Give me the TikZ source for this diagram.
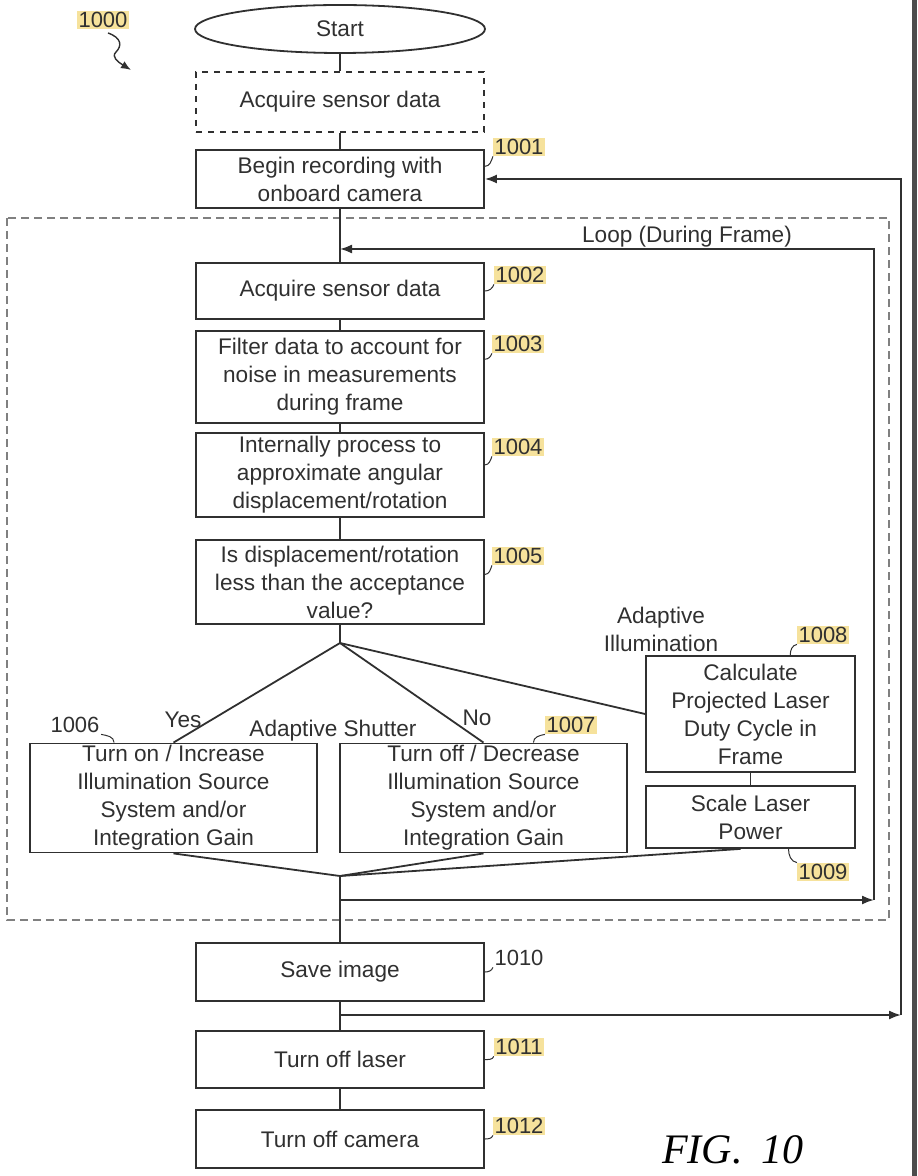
\documentclass[tikz,border=0pt]{standalone}
\usepackage{fontspec}
\setmainfont{Liberation Sans}
\newfontfamily\figfont{Liberation Serif}
\usepackage{xcolor}
\usetikzlibrary{shapes.geometric}
\usetikzlibrary{arrows.meta}

\definecolor{ink}{HTML}{303030}
\definecolor{numhl}{HTML}{F6E29C}

\tikzset{
	procbox/.style={draw=ink, line width=0.9pt, align=center, inner sep=1pt, text=ink,
		font=\fontsize{11.3}{14}\selectfont},
	flow/.style={draw=ink, line width=0.9pt},
	arr/.style={flow, -{Latex[length=6pt,width=4.5pt]}},
	lead/.style={draw=ink, line width=0.5pt},
	refnum/.style={text=ink, inner sep=0.6pt, font=\fontsize{11}{13}\selectfont},
	hlnum/.style={refnum, fill=numhl},
	tag/.style={text=ink, align=center, inner sep=0pt, font=\fontsize{11.3}{14}\selectfont},
}

\begin{document}
\begin{tikzpicture}[x=0.5pt, y=-0.5pt]
	\useasboundingbox (0,0) rectangle (917,1176);
	
	% frame loop
	\draw[gray, dashed, line width=0.8pt, dash pattern=on 4pt off 2.5pt] (7,218) rectangle (889,920);
	\node[tag] (looplbl) at (687,237) {Loop (During Frame)};
	
	% main column
	\node[procbox, ellipse, minimum width=145pt, minimum height=24pt] (start) at (340,29) {Start};
	\node[procbox, dashed, minimum width=144pt, minimum height=30pt] (b0) at (340,102) {Acquire sensor data};
	\node[procbox, minimum width=144pt, minimum height=29pt] (b1001) at (340,179) {Begin recording with\\onboard camera};
	\node[procbox, minimum width=144pt, minimum height=28pt] (b1002) at (340,291) {Acquire sensor data};
	\node[procbox, minimum width=144pt, minimum height=46pt] (b1003) at (340,377) {Filter data to account for\\noise in measurements\\during frame};
	\node[procbox, minimum width=144pt, minimum height=42pt] (b1004) at (340,475) {Internally process to\\approximate angular\\displacement/rotation};
	\node[procbox, minimum width=144pt, minimum height=42pt] (b1005) at (340,582) {Is displacement/rotation\\less than the acceptance\\value?};
	
	% branches
	\node[procbox, minimum width=143.5pt, minimum height=54pt] (b1006) at (173.5,798) {Turn on / Increase\\Illumination Source\\System and/or\\Integration Gain};
	\node[procbox, minimum width=143.5pt, minimum height=54pt] (b1007) at (483.5,798) {Turn off / Decrease\\Illumination Source\\System and/or\\Integration Gain};
	\node[procbox, minimum width=104.5pt, minimum height=58pt] (b1008) at (750.5,714) {Calculate\\Projected Laser\\Duty Cycle in\\Frame};
	\node[procbox, minimum width=104.5pt, minimum height=31pt] (b1009) at (750.5,817) {Scale Laser\\Power};
	
	% end column
	\node[procbox, minimum width=144pt, minimum height=29pt] (b1010) at (340,972) {Save image};
	\node[procbox, minimum width=144pt, minimum height=28.5pt] (b1011) at (340,1059.5) {Turn off laser};
	\node[procbox, minimum width=144pt, minimum height=29pt] (b1012) at (340,1139) {Turn off camera};
	
	% branch texts
	\node[tag] (yes) at (183,720) {Yes};
	\node[tag] (no) at (477,718) {No};
	\node[tag] (shut) at (333,731) {Adaptive Shutter};
	\node[tag] (illum) at (661,629) {Adaptive\\Illumination};
	
	% connectors
	\coordinate (apex) at (340,643);
	\coordinate (merge) at (340,876);
	\draw[flow] (start) -- (b0);
	\draw[flow] (b0) -- (b1001);
	\draw[flow] (b1001) -- (b1002);
	\draw[flow] (b1002) -- (b1003);
	\draw[flow] (b1003) -- (b1004);
	\draw[flow] (b1004) -- (b1005);
	\draw[flow] (b1005) -- (apex);
	\draw[flow] (apex) -- (b1006.north);
	\draw[flow] (apex) -- (b1007.north);
	\draw[flow] (apex) -- (b1008.west);
	\draw[flow] (b1008) -- (b1009);
	\draw[flow] (b1006.south) -- (merge);
	\draw[flow] (b1007.south) -- (merge);
	\draw[flow] ([xshift=-5pt]b1009.south) -- (merge);
	\draw[flow] (merge) -- (b1010);
	\draw[flow] (b1010) -- (b1011);
	\draw[flow] (b1011) -- (b1012);
	
	% inner loop
	\coordinate (inA) at (340,900);
	\coordinate (inC) at (874,900);
	\coordinate (inB) at (340,249);
	\draw[arr] (inA) -- (inC);
	\draw[arr] (inC) |- (inB);
	
	% outer loop
	\coordinate (outA) at (340,1015);
	\coordinate (outC) at (901,1015);
	\draw[arr] (outA) -- (outC);
	\draw[arr] (outC) |- (b1001.east);
	
	% reference numerals
	\node[hlnum] (l1000) at (103,20) {1000};
	\node[hlnum] (l1001) at (519,147) {1001};
	\node[hlnum] (l1002) at (520,275) {1002};
	\node[hlnum] (l1003) at (518,344) {1003};
	\node[hlnum] (l1004) at (518,447) {1004};
	\node[hlnum] (l1005) at (518,556) {1005};
	\node[refnum] (l1006) at (75,725) {1006};
	\node[hlnum] (l1007) at (571,725) {1007};
	\node[hlnum] (l1008) at (823,635) {1008};
	\node[hlnum] (l1009) at (823,872) {1009};
	\node[refnum] (l1010) at (519,958) {1010};
	\node[hlnum] (l1011) at (519,1047) {1011};
	\node[hlnum] (l1012) at (519,1126) {1012};
	
	\draw[lead] (b1001.5.5) to[out=0, in=-110] (l1001.south west);
	\draw[lead] (b1002.east) to[out=0, in=-110] (l1002.south west);
	\draw[lead] (b1003.7) to[out=0, in=-110] (l1003.south west);
	\draw[lead] (b1004.4) to[out=0, in=-110] (l1004.south west);
	\draw[lead] (b1005.3.6) to[out=0, in=-110] (l1005.south west);
	\draw[lead] (b1006.137) to[out=90, in=-10] (l1006.south east);
	\draw[lead] (b1007.48) to[out=90, in=-170] (l1007.south west);
	\draw[lead] (b1008.56) to[out=90, in=-170] (l1008.south west);
	\draw[lead] (b1009.-40) to[out=-90, in=170] (l1009.north west);
	\draw[lead] (b1010.east) to[out=0, in=-110] (l1010.south west);
	\draw[lead] (b1011.east) to[out=0, in=-110] (l1011.south west);
	\draw[lead] (b1012.east) to[out=0, in=-110] (l1012.south west);
	
	% figure reference arrow
	\coordinate (c1000) at (131,70);
	\draw[lead, line width=0.7pt, -{Latex[length=5pt,width=4pt]}] (108,33) .. controls (122,38) and (122,46) .. (116,52) .. controls (111,57) and (118,62) .. (c1000);
	
	\node[text=black, inner sep=0pt, font=\figfont\itshape\fontsize{21}{24}\selectfont] (fig) at (733,1150) {FIG.\hspace{0.45em}10};
	
	% scan edge
	\fill[black!70] (912,0) rectangle (917,1176);
	
\end{tikzpicture}
\end{document}
